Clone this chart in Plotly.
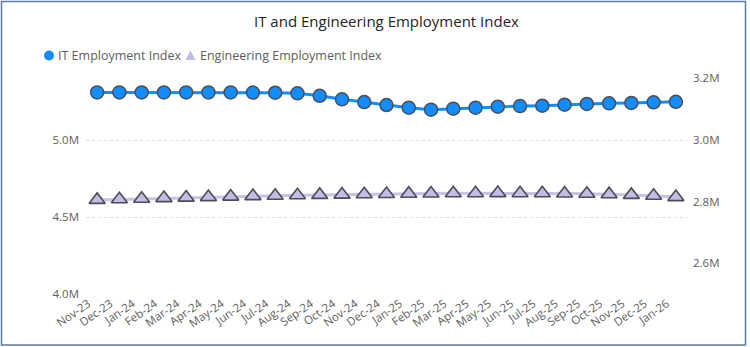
import plotly.graph_objects as go

# Monthly periods
months = ["Nov-23", "Dec-23", "Jan-24", "Feb-24", "Mar-24", "Apr-24", "May-24",
          "Jun-24", "Jul-24", "Aug-24", "Sep-24", "Oct-24", "Nov-24", "Dec-24",
          "Jan-25", "Feb-25", "Mar-25", "Apr-25", "May-25", "Jun-25", "Jul-25",
          "Aug-25", "Sep-25", "Oct-25", "Nov-25", "Dec-25", "Jan-26"]

# IT Employment Index (primary axis)
it_index = [5309000, 5309000, 5309000, 5309000, 5309000, 5309000, 5309000,
            5308000, 5307000, 5303000, 5287000, 5264000, 5246000, 5227000,
            5210000, 5197000, 5203000, 5210000, 5216000, 5220000, 5223000,
            5229000, 5234000, 5238000, 5241000, 5245000, 5248000]

# Engineering Employment Index (secondary axis)
eng_index = [2805500, 2807500, 2809400, 2811400, 2813000, 2814600, 2816300,
             2817900, 2819200, 2820500, 2821800, 2822800, 2823700, 2824700,
             2825700, 2826300, 2827000, 2827300, 2827600, 2827300, 2827000,
             2826300, 2825400, 2824100, 2821800, 2818900, 2814600]

# Axis ticks
left_tickvals = [4000000, 4500000, 5000000]
left_ticktext = ["4.0M", "4.5M", "5.0M"]
right_tickvals = [2600000, 2800000, 3000000, 3200000]
right_ticktext = ["2.6M", "2.8M", "3.0M", "3.2M"]

series_names = ["IT Employment Index", "Engineering Employment Index"]

W, H = 750, 347
ML, MR, MT, MB = 86, 63, 63, 53
PW, PH = W - ML - MR, H - MT - MB

IT_BLUE = "#118DFF"
ENG_FILL = "#C4BBE6"
ENG_LINE = "#C9C1EA"
EDGE = "#4D4D55"
TXT = "#605E5C"
FONT = "Open Sans, Noto Sans, sans-serif"


def px_x(px):
    return (px - ML) / PW


def px_y(py):
    return (H - MB - py) / PH


fig = go.Figure()

fig.add_trace(go.Scatter(
    x=months, y=eng_index, yaxis="y2", mode="lines+markers",
    name=series_names[1], showlegend=False,
    line=dict(color=ENG_LINE, width=3),
    marker=dict(symbol="triangle-up", size=14, color=ENG_FILL,
                line=dict(color=EDGE, width=1.6)),
))
fig.add_trace(go.Scatter(
    x=months, y=it_index, yaxis="y", mode="lines+markers",
    name=series_names[0], showlegend=False,
    line=dict(color=IT_BLUE, width=3),
    marker=dict(symbol="circle", size=13, color=IT_BLUE,
                line=dict(color=EDGE, width=1.5)),
))

# Compact legend: symbols as shapes, labels as annotations
leg_y = 55.5
shapes = [
    dict(type="circle", xref="paper", yref="paper",
         x0=px_x(44), x1=px_x(54), y0=px_y(leg_y + 5), y1=px_y(leg_y - 5),
         fillcolor=IT_BLUE, line=dict(width=0)),
    dict(type="path", xref="paper", yref="paper",
         path="M {:.5f},{:.5f} L {:.5f},{:.5f} L {:.5f},{:.5f} Z".format(
             px_x(185.5), px_y(leg_y + 4.5), px_x(195.5), px_y(leg_y + 4.5),
             px_x(190.5), px_y(leg_y - 5)),
         fillcolor=ENG_FILL, line=dict(width=0)),
    # visual frame
    dict(type="rect", xref="paper", yref="paper",
         x0=px_x(1.5), x1=px_x(745.5), y0=px_y(1.5), y1=px_y(345),
         line=dict(color="#5A7BA3", width=1.5), layer="above"),
]
annotations = [
    dict(text=series_names[0], xref="paper", yref="paper",
         x=px_x(56), y=px_y(leg_y), xanchor="left", yanchor="middle",
         showarrow=False, font=dict(size=12.5, color=TXT, family=FONT)),
    dict(text=series_names[1], xref="paper", yref="paper",
         x=px_x(197.5), y=px_y(leg_y), xanchor="left", yanchor="middle",
         showarrow=False, font=dict(size=12.5, color=TXT, family=FONT)),
]

fig.update_layout(
    width=W, height=H,
    margin=dict(l=ML, r=MR, t=MT, b=MB),
    paper_bgcolor="white", plot_bgcolor="white",
    font=dict(family=FONT, color=TXT, size=11.5),
    showlegend=False,
    title=dict(text="IT and Engineering Employment Index",
               x=0.5, xref="paper", xanchor="center",
               y=1 - 22 / H, yanchor="middle", yref="container",
               font=dict(size=15, color="#252423", family=FONT)),
    xaxis=dict(type="category", range=[-0.5, 26.5], tickangle=-35,
               showgrid=False, zeroline=False, showline=False,
               ticks="", ticklabelshift=-9,
               tickfont=dict(size=11.5, color=TXT)),
    yaxis=dict(range=[4000000, 5500000], tickvals=left_tickvals,
               ticktext=left_ticktext, showgrid=True, gridcolor="#DCDCDC",
               griddash="dot", gridwidth=1, zeroline=False, showline=False,
               ticks="", ticklabelstandoff=6,
               tickfont=dict(size=11.5, color=TXT)),
    yaxis2=dict(range=[2500000, 3250000], tickvals=right_tickvals,
                ticktext=right_ticktext, overlaying="y", side="right",
                showgrid=False, zeroline=False, showline=False, ticks="",
                ticklabelstandoff=5,
                tickfont=dict(size=11.5, color=TXT)),
    shapes=shapes,
    annotations=annotations,
)

fig.write_html("out.html")
